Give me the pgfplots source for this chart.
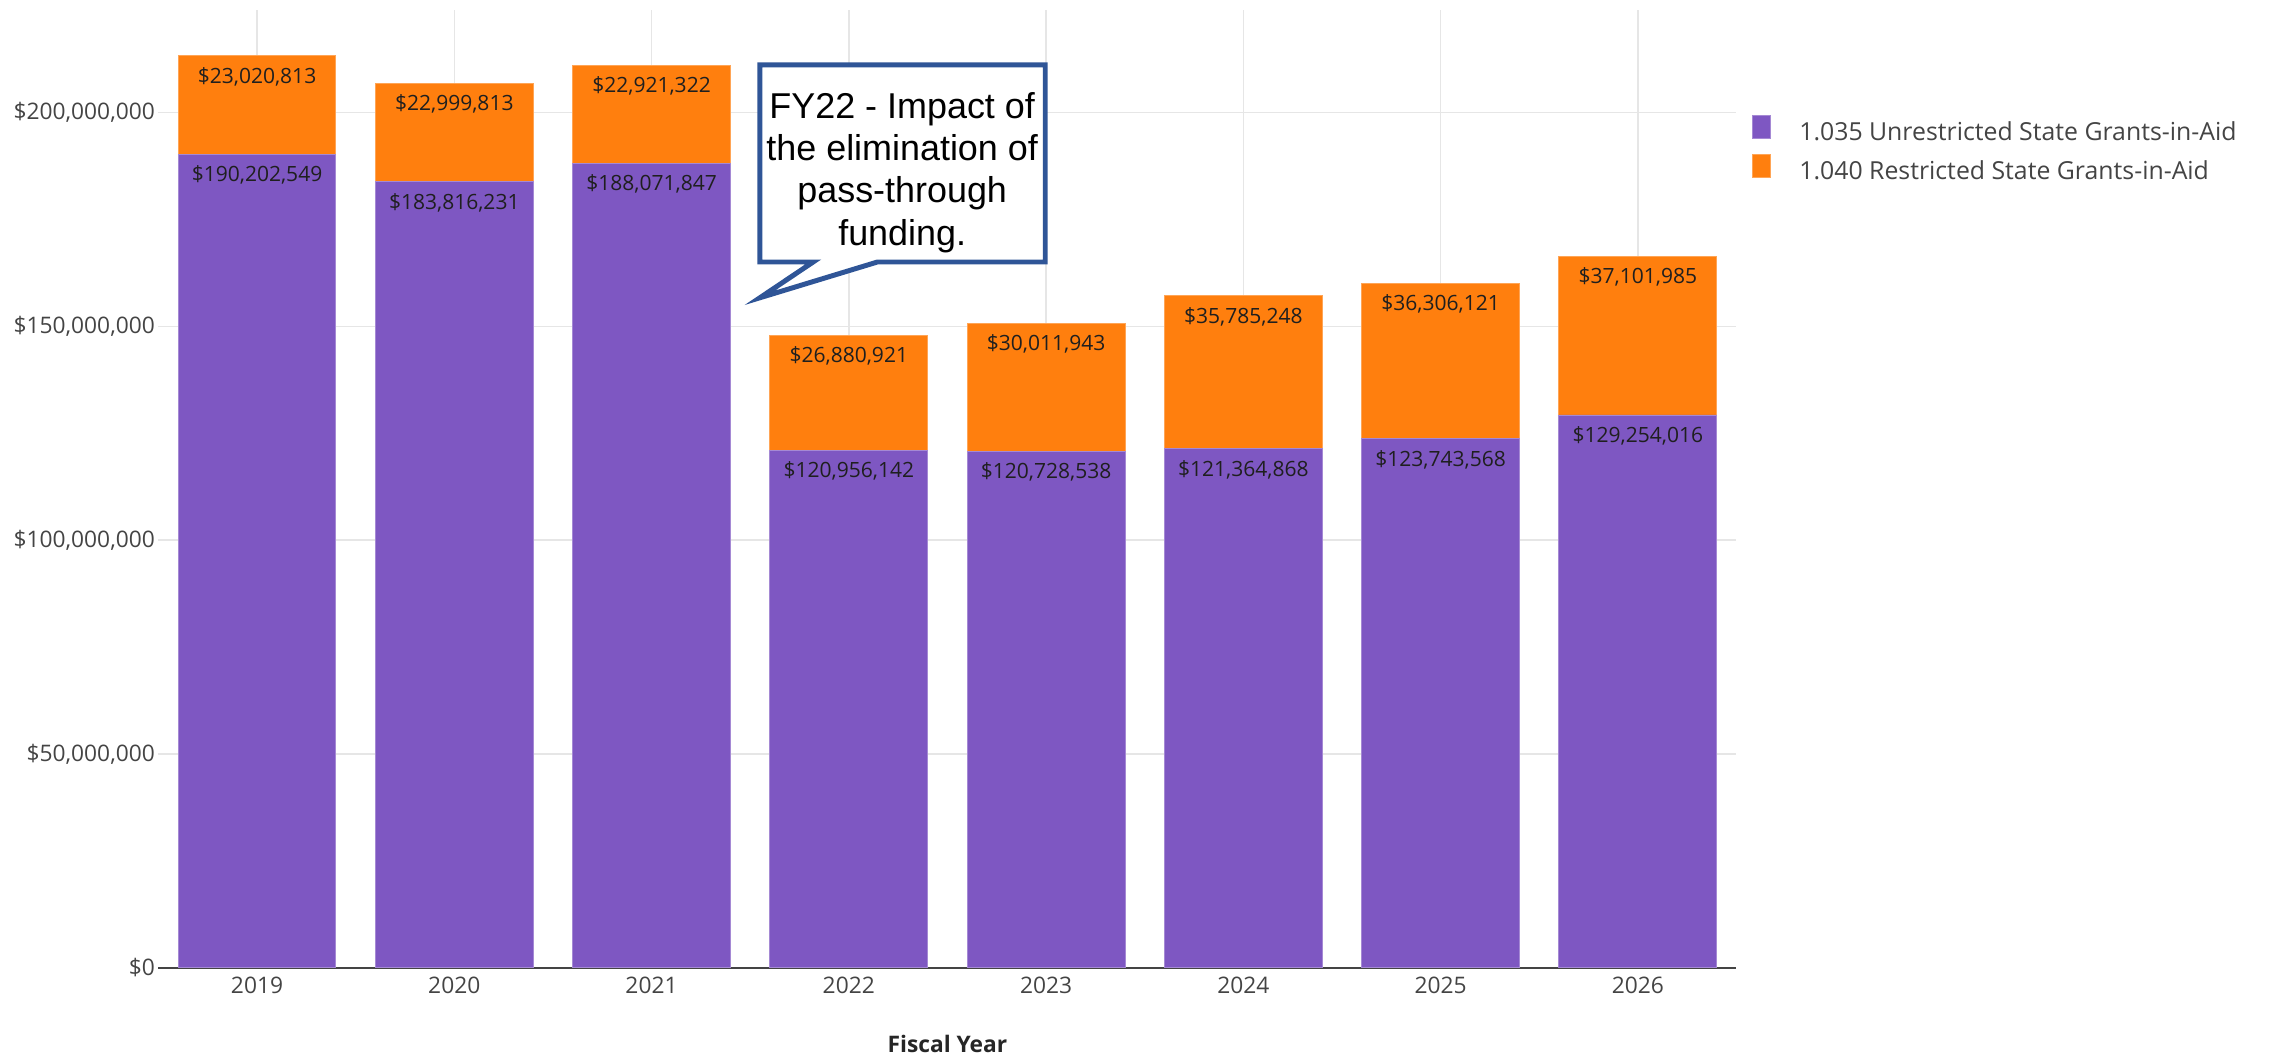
\documentclass[border=0pt]{standalone}
\usepackage{fontspec}
\setmainfont{Open Sans}
\newfontfamily\calloutfont{Liberation Sans}
\usepackage{pgfplots}
\pgfplotsset{compat=1.18}

\definecolor{cpurple}{HTML}{7E57C2}
\definecolor{corange}{HTML}{FF7F0E}
\definecolor{cgrid}{HTML}{E6E6E6}
\definecolor{caxis}{HTML}{444444}
\definecolor{cbox}{HTML}{2F5597}

\newcommand{\tickfont}{\fontsize{7.8}{9.4}\selectfont}
\newcommand{\lblfont}{\fontsize{7.2}{8.6}\selectfont}

\begin{document}
\begin{tikzpicture}
  \useasboundingbox (0pt,0pt) rectangle (784pt,363pt);
  \pgfplotsset{
    /pgfplots/ybar legend/.style={
      /pgfplots/legend image code/.code={%
        \fill[##1,/tikz/.cd] (0pt,-4pt) rectangle (8pt,4pt);},
    },
  }

% values in millions of dollars; labels carry the exact amounts
\begin{axis}[
  at={(54.25pt,31.5pt)}, anchor=south west,
  scale only axis, width=540.5pt, height=328pt,
  ybar stacked, bar width=0.8,
  xmin=-0.5, xmax=7.5, ymin=0, ymax=223.88453,
  xtick={0,...,7},
  xticklabels={2019,2020,2021,2022,2023,2024,2025,2026},
  ytick={0,50,100,150,200},
  yticklabels={{\$0},{\$50,000,000},{\$100,000,000},{\$150,000,000},{\$200,000,000}},
  grid=major,
  major grid style={cgrid, line width=0.5pt},
  tick style={draw=none},
  axis x line*=bottom,
  axis y line*=left,
  y axis line style={draw=none},
  x axis line style={caxis, line width=0.75pt, -},
  ticklabel style={font=\tickfont, text=caxis},
  yticklabel style={anchor=east, inner sep=0pt, xshift=-1pt},
  xticklabel style={anchor=north, inner sep=0pt, yshift=-3pt},
  xlabel={Fiscal Year},
  xlabel style={at={(axis description cs:0.5,0)}, anchor=base, yshift=-29pt,
    font=\bfseries\tickfont, text=black!85},
  point meta=explicit symbolic,
  visualization depends on={rawy \as \rawy},
  nodes near coords,
  % stacked labels sit at mid-segment: lift them to the segment top
  every node near coord/.append style={anchor=north, inner sep=0pt,
    yshift={0.732518*\rawy*1pt-3.8pt}, font=\lblfont, text=black!88},
  legend style={at={(1.0097,0.8911)}, anchor=north west, draw=none, fill=none,
    inner sep=0pt, row sep=3.2pt, column sep=9.8pt,
    font=\fontsize{8.5}{10}\selectfont, text=caxis,
    nodes={inner sep=0pt}},
  legend cell align=left,
]

\addplot[fill=cpurple, draw=cpurple!70!white, line width=0.3pt] coordinates {
  (0,190.202549) [\$190,202,549]
  (1,183.816231) [\$183,816,231]
  (2,188.071847) [\$188,071,847]
  (3,120.956142) [\$120,956,142]
  (4,120.728538) [\$120,728,538]
  (5,121.364868) [\$121,364,868]
  (6,123.743568) [\$123,743,568]
  (7,129.254016) [\$129,254,016]
};
\addlegendentry{1.035 Unrestricted State Grants-in-Aid}

\addplot[fill=corange, draw=corange!70!white, line width=0.3pt] coordinates {
  (0,23.020813) [\$23,020,813]
  (1,22.999813) [\$22,999,813]
  (2,22.921322) [\$22,921,322]
  (3,26.880921) [\$26,880,921]
  (4,30.011943) [\$30,011,943]
  (5,35.785248) [\$35,785,248]
  (6,36.306121) [\$36,306,121]
  (7,37.101985) [\$37,101,985]
};
\addlegendentry{1.040 Restricted State Grants-in-Aid}
\end{axis}

% callout
\draw[cbox, line width=1.7pt, fill=white, line join=miter]
  (260.25pt,340.75pt) -- (358pt,340.75pt) -- (358pt,273.25pt)
  -- (300.5pt,273.25pt) -- (260.25pt,261pt) -- (278.5pt,273.25pt)
  -- (260.25pt,273.25pt) -- cycle;
\node[align=center, font=\calloutfont\fontsize{12.3}{14.5}\selectfont, text=black]
  at (309pt,304pt) {FY22 - Impact of\\the elimination of\\pass-through\\funding.};
\end{tikzpicture}
\end{document}
